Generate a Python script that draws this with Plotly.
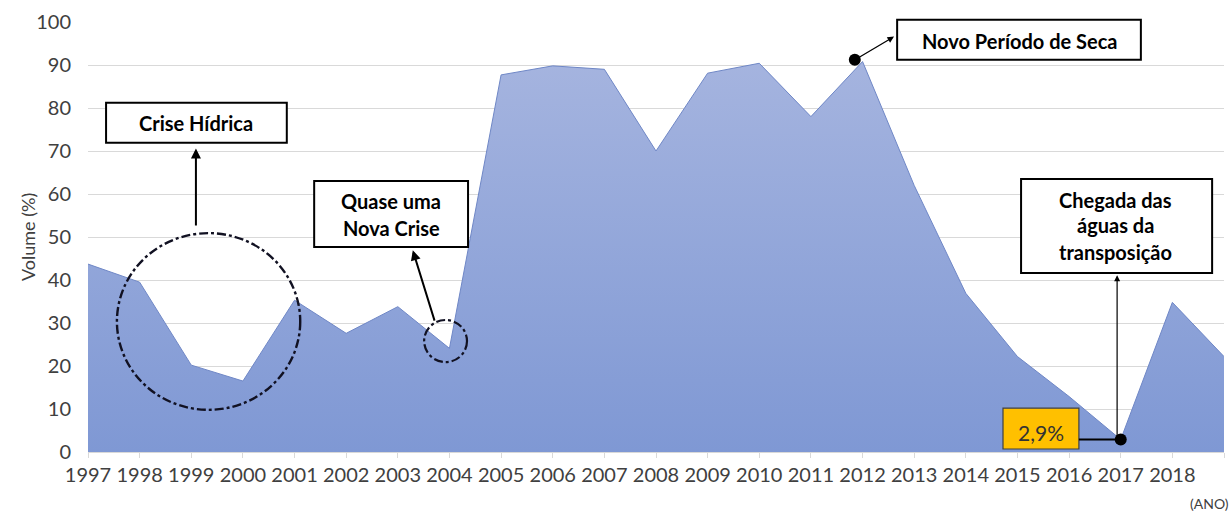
import plotly.graph_objects as go

# ---- data ----
years = list(range(1997, 2020))
volume = [43.7, 39.5, 20.2, 16.5, 35.3, 27.6, 33.8, 24.1, 87.7, 89.8, 89.0, 70.0,
          88.1, 90.4, 78.0, 90.8, 62.0, 36.9, 22.2, 12.9, 2.9, 34.8, 22.2]
tick_years = list(range(1997, 2020))
tick_labels = [str(y) for y in range(1997, 2019)] + [""]
highlight_years = [2011.85, 2017]
highlight_values = [91.2, 2.9]

FONT = "Lato"
TXT = "#404040"

fig = go.Figure()
fig.add_trace(go.Scatter(
    x=years, y=volume, mode="lines", fill="tozeroy",
    line=dict(color="#6F87C6", width=1),
    fillgradient=dict(type="vertical", start=0, stop=91,
                      colorscale=[[0, "#7F98D4"], [1, "#A5B4DF"]]),
    hoverinfo="skip", showlegend=False))
fig.add_trace(go.Scatter(
    x=highlight_years, y=highlight_values, mode="markers",
    marker=dict(color="black", size=12), hoverinfo="skip", showlegend=False,
    cliponaxis=False))

shapes = []
annotations = []


def box(x0, x1, y0, y1, fill="white", lw=2, lc="black"):
    shapes.append(dict(type="rect", xref="x", yref="paper", x0=x0, x1=x1,
                       y0=y0 / 100, y1=y1 / 100, fillcolor=fill,
                       line=dict(color=lc, width=lw), layer="above"))


def text(x, y, t, size=20, bold=True, color="black"):
    annotations.append(dict(x=x, y=y, xref="x", yref="y", text=f"<b>{t}</b>" if bold else t,
                            showarrow=False, font=dict(family=FONT, size=size, color=color),
                            xanchor="center", yanchor="middle"))


def arrow(x0, y0, x1, y1, w=2, head=2):
    annotations.append(dict(x=x1, y=y1, ax=x0, ay=y0, xref="x", yref="y", axref="x", ayref="y",
                            text="", showarrow=True, arrowhead=head, arrowsize=1,
                            arrowwidth=w, arrowcolor="black"))


# circles
shapes.append(dict(type="circle", xref="x", yref="y", x0=1997.56, x1=2001.11, y0=9.8, y1=50.9,
                   line=dict(color="#111122", width=2.4, dash="dashdot")))
shapes.append(dict(type="circle", xref="x", yref="y", x0=2003.51, x1=2004.34, y0=20.9, y1=30.7,
                   line=dict(color="#111122", width=2.2, dash="dashdot")))

# Crise Hídrica
box(1997.35, 2000.85, 71.9, 81.2)
text(1999.09, 76.6, "Crise Hídrica")
arrow(1999.09, 52.3, 1999.09, 70.6)

# Quase uma Nova Crise
box(2001.38, 2004.36, 47.7, 63.0)
text(2002.87, 58.3, "Quase uma")
text(2002.87, 52.1, "Nova Crise")
arrow(2003.72, 30.2, 2003.29, 46.9)

# Novo Período de Seca
box(2012.67, 2017.39, 91.2, 100.5)
text(2015.04, 95.6, "Novo Período de Seca")
arrow(2011.85, 91.2, 2012.61, 96.6, w=1.3)

# Chegada das águas da transposição
box(2015.07, 2018.77, 41.6, 63.5)
text(2016.9, 58.6, "Chegada das")
text(2016.9, 52.7, "águas da")
text(2016.9, 46.6, "transposição")
arrow(2016.93, 3.3, 2016.93, 41.1, w=1.2)

# 2,9% label
box(2014.72, 2016.19, 0.7, 10.2, fill="#FFC000", lw=1.2, lc="#404040")
text(2015.45, 4.6, "2,9%", size=21, bold=False, color="#333333")
shapes.append(dict(type="line", xref="x", yref="y", x0=2016.19, x1=2016.93, y0=2.9, y1=2.9,
                   line=dict(color="black", width=2)))

annotations.append(dict(x=1.0062, y=-0.119, xref="paper", yref="paper", text="(ANO)",
                        showarrow=False, xanchor="right", yanchor="middle",
                        font=dict(family=FONT, size=14, color=TXT)))

# y-axis title
annotations.append(dict(x=-0.0528, y=0.5, xref="paper", yref="paper", text="Volume (%)",
                        textangle=-90, showarrow=False, xanchor="center", yanchor="middle",
                        font=dict(family=FONT, size=18, color=TXT)))

fig.update_layout(
    width=1232, height=513,
    margin=dict(l=88, r=8, t=22, b=61),
    paper_bgcolor="white", plot_bgcolor="white",
    font=dict(family=FONT, color=TXT),
    shapes=shapes, annotations=annotations,
    xaxis=dict(range=[1997, 2019], tickvals=tick_years, ticktext=tick_labels,
               ticks="outside", ticklen=5, tickcolor="#d9d9d9", showgrid=False,
               showline=True, linecolor="#d9d9d9", linewidth=1,
               tickfont=dict(family=FONT, size=20, color=TXT), zeroline=False),
    yaxis=dict(range=[0, 100], dtick=10, showgrid=True, gridcolor="#d9d9d9", gridwidth=1,
               zeroline=False, ticks="", ticklabelstandoff=16,
               tickfont=dict(family=FONT, size=20, color=TXT)),
)

fig.write_html("out.html")
